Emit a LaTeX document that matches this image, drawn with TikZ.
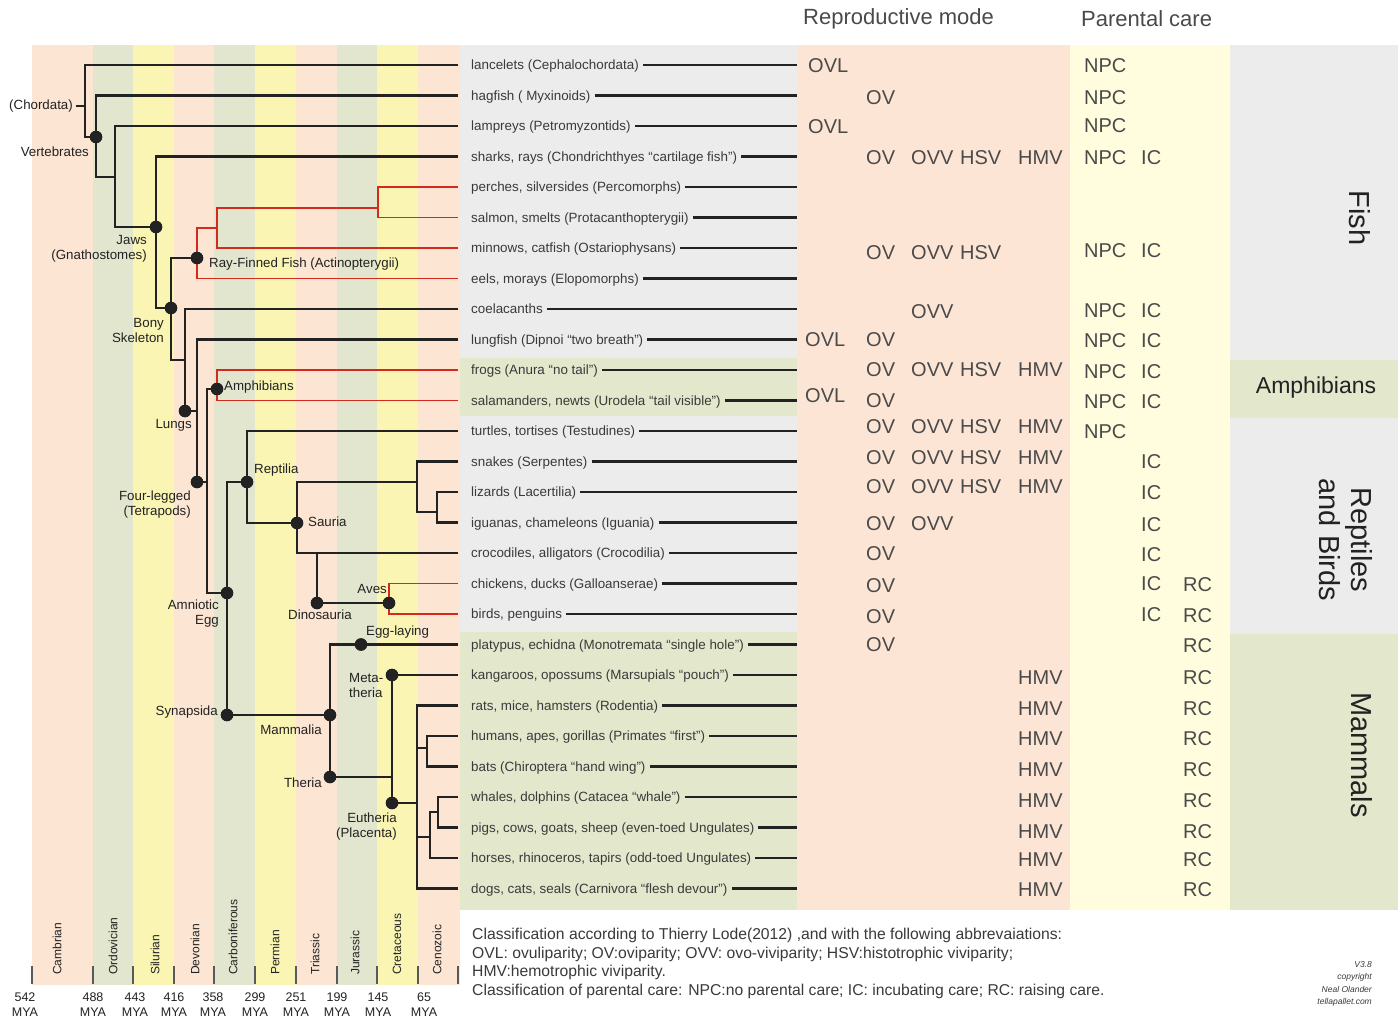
\documentclass[tikz,border=0pt]{standalone}
\usepackage{fontspec}
\setmainfont{Liberation Sans}
\definecolor{linec}{HTML}{222222}
\definecolor{redc}{HTML}{D42A1E}
\definecolor{stP}{HTML}{FCE5D3}
\definecolor{stG}{HTML}{E3E6CE}
\definecolor{stY}{HTML}{FAF5B2}
\definecolor{grayc}{HTML}{ECECEC}
\definecolor{greenc}{HTML}{E3E7CC}
\definecolor{repc}{HTML}{FCE5D5}
\definecolor{parc}{HTML}{FFFDDD}
\definecolor{labc}{HTML}{222222}
\definecolor{slabc}{HTML}{3A3A3A}
\definecolor{datc}{HTML}{4A4A4A}
\begin{document}
\begin{tikzpicture}[x=1pt,y=-1pt,
  tl/.style={line width=2.6pt, draw=linec},
  rl/.style={line width=1.8pt, draw=redc},
  dot/.style={circle, fill=linec, minimum size=12.5pt, inner sep=0pt},
  tlab/.style={font=\fontsize{13.3}{15}\selectfont, text=labc, inner sep=0pt},
  slab/.style={font=\fontsize{13.4}{15}\selectfont, text=slabc, inner sep=0pt, anchor=base west},
  dat/.style={font=\fontsize{20}{22}\selectfont, text=datc, inner sep=0pt, anchor=base west},
  hdr/.style={font=\fontsize{22}{24}\selectfont, text=datc, inner sep=0pt, anchor=west},
  per/.style={font=\fontsize{12}{14}\selectfont, text=labc, inner sep=0pt, rotate=90, anchor=west},
  mya/.style={font=\fontsize{12.5}{15}\selectfont, text=labc, inner sep=0pt, align=center},
  cls/.style={font=\fontsize{29}{32}\selectfont, text=labc, inner sep=0pt, align=center},
  note/.style={font=\fontsize{15.7}{19}\selectfont, text=slabc, inner sep=0pt, anchor=base west},
  tick/.style={line width=2.5pt, draw=black!65}
]
\useasboundingbox (0,0) rectangle (1400,1023);
\fill[white] (0,0) rectangle (1400,1023);
% ---- period stripes
\fill[stP] (32,45) rectangle (93,985);
\fill[stG] (93,45) rectangle (133,985);
\fill[stY] (133,45) rectangle (174,985);
\fill[stP] (174,45) rectangle (214,985);
\fill[stG] (214,45) rectangle (255,985);
\fill[stY] (255,45) rectangle (296,985);
\fill[stP] (296,45) rectangle (337,985);
\fill[stG] (337,45) rectangle (377,985);
\fill[stY] (377,45) rectangle (418,985);
\fill[stP] (418,45) rectangle (460,985);
% ---- columns
\fill[grayc] (460,45) rectangle (797,910);
\fill[greenc] (460,358) rectangle (797,416);
\fill[greenc] (460,632) rectangle (797,910);
\fill[repc] (797,45) rectangle (1070,910);
\fill[parc] (1070,45) rectangle (1230,910);
\fill[grayc] (1230,45) rectangle (1398,910);
\fill[greenc] (1230,360) rectangle (1398,418);
\fill[greenc] (1230,634) rectangle (1398,910);
% ---- headers
\node[hdr] (h1) at (803,19) {Reproductive mode};
\node[hdr] (h2) at (1081,19) {Parental care};
% ---- leaves
\foreach \i/\t in {1/{lancelets (Cephalochordata)},2/{hagfish ( Myxinoids)},3/{lampreys (Petromyzontids)},4/{sharks, rays (Chondrichthyes “cartilage fish”)},5/{perches, silversides (Percomorphs)},6/{salmon, smelts (Protacanthopterygii)},7/{minnows, catfish (Ostariophysans)},8/{eels, morays (Elopomorphs)},9/{coelacanths},10/{lungfish (Dipnoi “two breath”)},11/{frogs (Anura “no tail”)},12/{salamanders, newts (Urodela “tail visible”)},13/{turtles, tortises (Testudines)},14/{snakes (Serpentes)},15/{lizards (Lacertilia)},16/{iguanas, chameleons (Iguania)},17/{crocodiles, alligators (Crocodilia)},18/{chickens, ducks (Galloanserae)},19/{birds, penguins},20/{platypus, echidna (Monotremata “single hole”)},21/{kangaroos, opossums (Marsupials “pouch”)},22/{rats, mice, hamsters (Rodentia)},23/{humans, apes, gorillas (Primates “first”)},24/{bats (Chiroptera “hand wing”)},25/{whales, dolphins (Catacea “whale”)},26/{pigs, cows, goats, sheep (even-toed Ungulates)},27/{horses, rhinoceros, tapirs (odd-toed Ungulates)},28/{dogs, cats, seals (Carnivora “flesh devour”)}}{
  \pgfmathsetmacro\yy{65+(\i-1)*30.5}
  \coordinate (e\i) at (458,\yy);
  \coordinate (f\i) at (797,\yy);
  \node[slab] (s\i) at (471,\yy+4.7) {\t};
  \draw[tl] ([xshift=4pt]s\i.east |- f\i) -- (f\i);
}
% ---- tree nodes
\coordinate (root) at (85,137);
\node[dot] (V) at (96,137) {};
\coordinate (c1) at (115,177);
\node[dot] (J) at (156,227) {};
\node[dot] (B) at (171,308) {};
\node[dot] (R) at (197,258) {};
\coordinate (ra) at (217,228);
\coordinate (rb) at (378,208);
\coordinate (lobe) at (185,360);
\node[dot] (Lu) at (185,411) {};
\node[dot] (Tp) at (197,482) {};
\coordinate (tet) at (207,389);
\node[dot] (Am) at (217,389) {};
\node[dot] (AE) at (227,593) {};
\node[dot] (Rp) at (247,482) {};
\node[dot] (Sa) at (297,523) {};
\coordinate (sq) at (417,482);
\coordinate (sq2) at (437,512);
\coordinate (ar) at (317,553);
\node[dot] (Di) at (317,603) {};
\node[dot] (Av) at (389,603) {};
\node[dot] (Sy) at (227,715) {};
\node[dot] (Ma) at (330,715) {};
\node[dot] (EL) at (361,644.5) {};
\node[dot] (Th) at (330,777) {};
\node[dot] (Me) at (392,675) {};
\node[dot] (Eu) at (392,803) {};
\coordinate (eu2) at (417,803);
\coordinate (pr) at (427,748);
\coordinate (un) at (430,812);
\coordinate (unj) at (430,837);
\coordinate (un2) at (438,812);
% ---- tree edges
\draw[tl] (e1) -| (root) -- (V.center);
\draw[tl] (e2) -| (V.center) |- (c1);
\draw[tl] (e3) -| (c1) |- (J.center);
\draw[tl] (e4) -| (J.center) |- (B.center);
\draw[tl] (R.center) -| (B.center) |- (lobe);
\draw[rl] (e8) -| (R.center) |- (ra);
\draw[rl] (e7) -| (ra) |- (rb);
\draw[rl] (e5) -| (rb) |- (e6);
\draw[tl] (e9) -| (lobe) -- (Lu.center);
\draw[tl] (Lu.center) -- (Lu.center -| Tp.center);
\draw[tl] (e10) -| (Tp.center);
\draw[tl] (Tp.center) -- (Tp.center -| tet);
\draw[tl] (Am.center) -- (tet) -- (tet |- AE.center) -- (AE.center);
\draw[rl] (e11) -| (Am.center) |- (e12);
\draw[tl] (Rp.center) -| (AE.center) |- (Sy.center);
\draw[tl] (e13) -| (Rp.center) |- (Sa.center);
\draw[tl] (sq) -| (Sa.center) |- (e17);
\draw[tl] (e14) -| (sq) |- (sq2);
\draw[tl] (e15) -| (sq2) |- (e16);
\draw[tl] (ar) -- (Di.center) -- (Av.center);
\draw[rl] (e18) -| (Av.center) |- (e19);
\draw[tl] (Sy.center) -- (Ma.center);
\draw[tl] (e20) -| (Ma.center) |- (Th.center);
\draw[tl] (e21) -- (Me.center) -- (Eu.center);
\draw[tl] (Th.center) -- (Th.center -| Eu.center);
\draw[tl] (Eu.center) -- (eu2);
\draw[tl] (e22) -| (eu2) |- (e28);
\draw[tl] (e23) -| (pr) |- (e24);
\draw[tl] (pr) -- (pr -| eu2);
\draw[tl] (e27) -| (un) -- (un2);
\draw[tl] (e25) -| (un2) |- (e26);
\draw[tl] (unj) -- (unj -| eu2);
% redraw dots on top
\foreach \n in {V,J,B,R,Lu,Tp,Am,AE,Rp,Sa,Di,Av,Sy,Ma,EL,Th,Me,Eu}{\fill[linec] (\n) circle (6.2pt);}
% ---- tree labels
\node[tlab, anchor=east] (lch) at (73,106) {(Chordata)};
\draw[tl] ([xshift=3pt]lch.east) -- (lch.east -| root);
\node[tlab, anchor=east] (lve) at (89,152) {Vertebrates};
\node[tlab, anchor=east, align=right] (lja) at (147,249) {Jaws\\(Gnathostomes)};
\node[tlab, anchor=west] (lrf) at (209,264) {Ray-Finned Fish (Actinopterygii)};
\node[tlab, anchor=east, align=right] (lbo) at (164,330) {Bony\\Skeleton};
\node[tlab, anchor=west] (lam) at (224,387) {Amphibians};
\node[tlab, anchor=east] (llu) at (192,425) {Lungs};
\node[tlab, anchor=east, align=right] (lfl) at (191,505) {Four-legged\\(Tetrapods)};
\node[tlab, anchor=west] (lre) at (254,470) {Reptilia};
\node[tlab, anchor=west] (lsa) at (308,522) {Sauria};
\node[tlab, anchor=east, align=right] (lae) at (219,614) {Amniotic\\Egg};
\node[tlab, anchor=east] (lav) at (387,589) {Aves};
\node[tlab] (ldi) at (320,615) {Dinosauria};
\node[tlab, anchor=west] (lel) at (366,632) {Egg-laying};
\node[tlab, anchor=west, align=left] (lme) at (349,685) {Meta-\\theria};
\node[tlab, anchor=east] (lsy) at (218,712) {Synapsida};
\node[tlab] (lma) at (291,730) {Mammalia};
\node[tlab, anchor=east] (lth) at (322,783) {Theria};
\node[tlab, anchor=east, align=right] (leu) at (397,827) {Eutheria\\(Placenta)};
% ---- reproductive mode & parental care
\foreach \nm/\x/\y/\t in {a1/808/65/OVL, a2/866/97/OV, a3/808/126/OVL,
  a4/866/157/OV, b4/911/157/OVV, c4/960/157/HSV, d4/1018/157/HMV,
  a7/866/252/OV, b7/911/252/OVV, c7/960/252/HSV,
  b9/911/311/OVV,
  a10/805/339/OVL, b10/866/339/OV,
  a11/866/369/OV, b11/911/369/OVV, c11/960/369/HSV, d11/1018/369/HMV,
  a12/805/395/OVL, b12/866/400/OV,
  a13/866/426/OV, b13/911/426/OVV, c13/960/426/HSV, d13/1018/426/HMV,
  a14/866/457/OV, b14/911/457/OVV, c14/960/457/HSV, d14/1018/457/HMV,
  a15/866/486/OV, b15/911/486/OVV, c15/960/486/HSV, d15/1018/486/HMV,
  a16/866/523/OV, b16/911/523/OVV,
  a17/866/553/OV, a18/866/585/OV, a19/866/616/OV, a20/866/644/OV,
  h21/1018/677/HMV, h22/1018/708/HMV, h23/1018/738/HMV, h24/1018/769/HMV,
  h25/1018/800/HMV, h26/1018/831/HMV, h27/1018/859/HMV, h28/1018/889/HMV,
  n1/1084/65/NPC, n2/1084/97/NPC, n3/1084/125/NPC, n4/1084/157/NPC, i4/1141/157/IC,
  n7/1084/250/NPC, i7/1141/250/IC, n9/1084/310/NPC, i9/1141/310/IC,
  n10/1084/340/NPC, i10/1141/340/IC, n11/1084/371/NPC, i11/1141/371/IC,
  n12/1084/401/NPC, i12/1141/401/IC, n13/1084/431/NPC,
  i14/1141/461/IC, i15/1141/492/IC, i16/1141/524/IC, i17/1141/554/IC,
  i18/1141/583/IC, i19/1141/614/IC,
  r18/1183/584/RC, r19/1183/615/RC, r20/1183/645/RC, r21/1183/677/RC,
  r22/1183/708/RC, r23/1183/738/RC, r24/1183/769/RC, r25/1183/800/RC,
  r26/1183/831/RC, r27/1183/859/RC, r28/1183/889/RC}{
  \node[dat] (\nm) at (\x,\y+7.2) {\t};
}
% ---- class labels
\node[cls, rotate=-90] (kf) at (1360,218) {Fish};
\node[cls, font=\fontsize{23}{26}\selectfont] (ka) at (1316,388) {Amphibians};
\node[cls, rotate=-90] (kr) at (1346,540) {Reptiles\\and Birds};
\node[cls, rotate=-90] (km) at (1362,755) {Mammals};
% ---- time axis
\foreach \x in {32,93,133,174,214,255,296,337,377,418,458}{\draw[tick] (\x,966) -- (\x,984);}
\foreach \nm/\x/\t in {p1/57/Cambrian,p2/113/Ordovician,p3/155/Silurian,p4/195/Devonian,p5/233/Carboniferous,p6/275/Permian,p7/315/Triassic,p8/355/Jurassic,p9/397/Cretaceous,p10/437/Cenozoic}{
  \node[per] (\nm) at (\x,975) {\t};
}
\foreach \nm/\x/\t in {m1/25/542,m2/93/488,m3/135/443,m4/174/416,m5/213/358,m6/255/299,m7/296/251,m8/337/199,m9/378/145,m10/424/65}{
  \node[mya] (\nm) at (\x,1005) {\t\\MYA};
}
% ---- notes
\node[note] (t1) at (472,939) {Classification according to Thierry Lode(2012) ,and with the following abbrevaiations:};
\node[note] (t2) at (472,958.5) {OVL: ovuliparity; OV:oviparity; OVV: ovo-viviparity; HSV:histotrophic viviparity;};
\node[note] (t3) at (472,976.5) {HMV:hemotrophic viviparity.};
\node[note] (t4) at (472,995.5) {Classification of parental care: NPC:no parental care; IC: incubating care; RC: raising care.};
\node[font=\itshape\fontsize{8.5}{12.5}\selectfont, text=slabc, align=right, anchor=north east, inner sep=0pt] (cp) at (1372,961) {V3.8\\copyright\\Neal Olander\\tellapallet.com};
\end{tikzpicture}
\end{document}
